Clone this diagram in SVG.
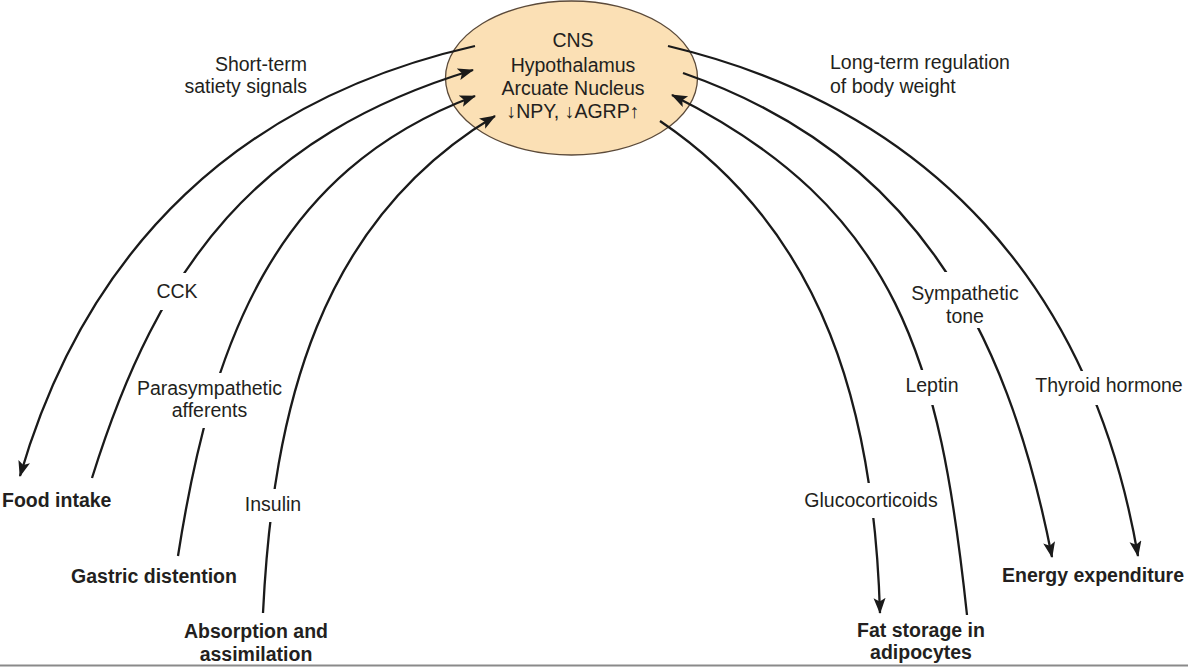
<svg xmlns="http://www.w3.org/2000/svg" width="1188" height="667" viewBox="0 0 1188 667">
<style>
  .t { font-family: "Liberation Sans", Arial, sans-serif; font-size: 19.5px; fill: #231f20; }
  .b { font-weight: bold; }
  .m { text-anchor: middle; }
  .e { text-anchor: end; }
  .gap { fill: #ffffff; stroke: none; }
  .c { fill: none; stroke: #1a1a1a; stroke-width: 2.3; }
</style>
<defs>
  <marker id="ah" markerUnits="userSpaceOnUse" markerWidth="18" markerHeight="14" refX="15" refY="6" orient="auto">
    <path d="M0,0 L16,6 L0,12 L3.5,6 Z" fill="#1a1a1a"/>
  </marker>
</defs>
<rect x="0" y="0" width="1188" height="667" fill="#ffffff"/>

<g id="cns">
  <ellipse cx="571.5" cy="78" rx="126" ry="77" fill="#fbe0b5" stroke="#5b4a3a" stroke-width="1.3"/>
  <text class="t m" x="573" y="47">CNS</text>
  <text class="t m" x="573" y="72">Hypothalamus</text>
  <text class="t m" x="573" y="95">Arcuate Nucleus</text>
  <text class="t m" x="573" y="118">↓NPY, ↓AGRP↑</text>
</g>

<g id="connectors">
  <path class="c" d="M475,46 C241,99 87,246 20,476" marker-end="url(#ah)"/>
  <path class="c" d="M92,478 C159,263 258,135 473,70" marker-end="url(#ah)"/>
  <path class="c" d="M178,556 C211,344 274,171 475,96" marker-end="url(#ah)"/>
  <path class="c" d="M263,613 C273,408 319,221 495,116" marker-end="url(#ah)"/>
  <path class="c" d="M668,46 C932,109 1092,288 1138,556" marker-end="url(#ah)"/>
  <path class="c" d="M683,73 C910,152 1006,322 1052,557" marker-end="url(#ah)"/>
  <path class="c" d="M967,615 C940,362 900,209 672,95" marker-end="url(#ah)"/>
  <path class="c" d="M660,121 C826,233 874,413 880,613" marker-end="url(#ah)"/>
</g>

<g id="label-short-term">
  <text class="t e" x="307" y="71">Short-term</text>
  <text class="t e" x="307" y="93">satiety signals</text>
</g>
<g id="label-long-term">
  <text class="t" x="830" y="69">Long-term regulation</text>
  <text class="t" x="830" y="93">of body weight</text>
</g>
<g id="label-cck">
  <rect class="gap" x="150" y="273" width="56" height="37"/>
  <text class="t m" x="177" y="298">CCK</text>
</g>
<g id="label-parasympathetic">
  <rect class="gap" x="175" y="373" width="70" height="55"/>
  <text class="t m" x="209.5" y="395">Parasympathetic</text>
  <text class="t m" x="209.5" y="417">afferents</text>
</g>
<g id="label-insulin">
  <rect class="gap" x="242" y="489" width="62" height="33"/>
  <text class="t m" x="273" y="511">Insulin</text>
</g>
<g id="node-food-intake">
  <text class="t b" x="2" y="507">Food intake</text>
</g>
<g id="node-gastric">
  <text class="t b m" x="154" y="583">Gastric distention</text>
</g>
<g id="node-absorption">
  <text class="t b m" x="256" y="638">Absorption and</text>
  <text class="t b m" x="256" y="661">assimilation</text>
</g>
<g id="label-glucocorticoids">
  <rect class="gap" x="858" y="483" width="34" height="35"/>
  <text class="t m" x="871" y="507">Glucocorticoids</text>
</g>
<g id="node-fat-storage">
  <text class="t b m" x="921" y="637">Fat storage in</text>
  <text class="t b m" x="921" y="659">adipocytes</text>
</g>
<g id="node-energy">
  <text class="t b m" x="1093" y="582">Energy expenditure</text>
</g>
<g id="label-sympathetic">
  <rect class="gap" x="935" y="272" width="62" height="56"/>
  <text class="t m" x="965" y="300">Sympathetic</text>
  <text class="t m" x="965" y="323">tone</text>
</g>
<g id="label-leptin">
  <rect class="gap" x="910" y="370" width="40" height="35"/>
  <text class="t m" x="932" y="392">Leptin</text>
</g>
<g id="label-thyroid">
  <rect class="gap" x="1074" y="371" width="40" height="34"/>
  <text class="t m" x="1109" y="392">Thyroid hormone</text>
</g>

<line x1="0" y1="665.5" x2="1188" y2="665.5" stroke="#8a8a8a" stroke-width="2"/>
</svg>
